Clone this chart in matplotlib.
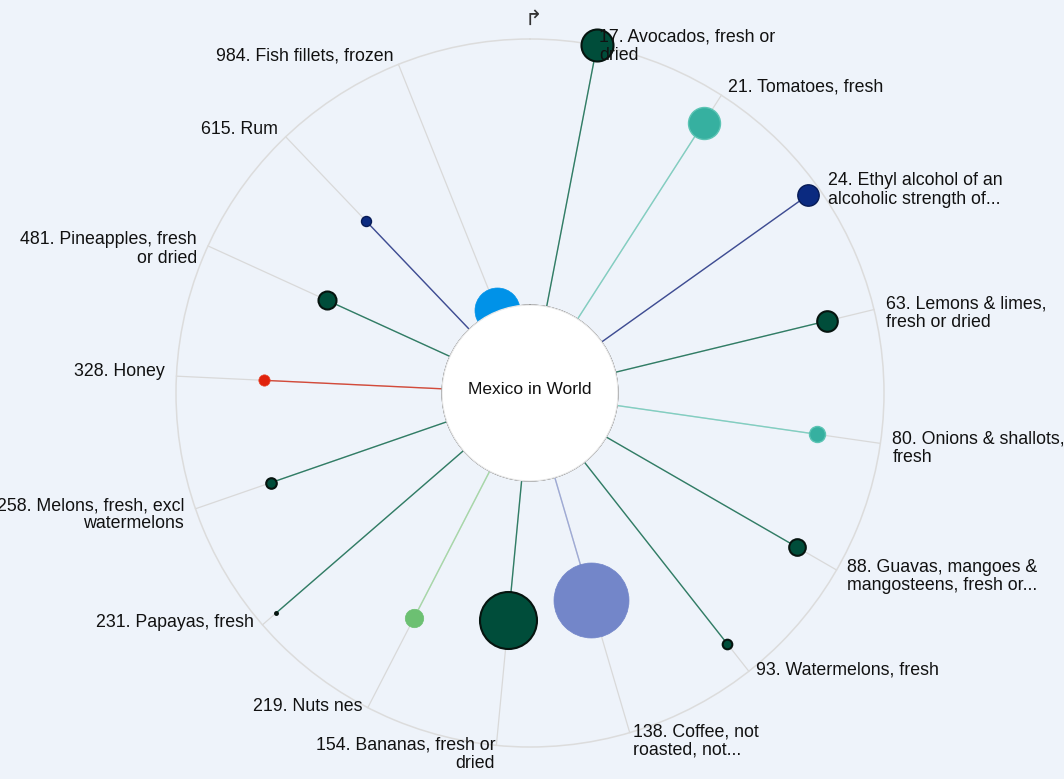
import numpy as np
import matplotlib.pyplot as plt
from matplotlib.patches import Circle
from matplotlib.transforms import offset_copy

plt.rcParams['font.family'] = ['Liberation Sans', 'DejaVu Sans']

# ---- data ----
ranks = [17, 21, 24, 63, 80, 88, 93, 138, 154, 219, 231, 258, 328, 481, 615, 984]
products = [
    "Avocados, fresh or\ndried",
    "Tomatoes, fresh",
    "Ethyl alcohol of an\nalcoholic strength of...",
    "Lemons & limes,\nfresh or dried",
    "Onions & shallots,\nfresh",
    "Guavas, mangoes &\nmangosteens, fresh or...",
    "Watermelons, fresh",
    "Coffee, not\nroasted, not...",
    "Bananas, fresh or\ndried",
    "Nuts nes",
    "Papayas, fresh",
    "Melons, fresh, excl\nwatermelons",
    "Honey",
    "Pineapples, fresh\nor dried",
    "Rum",
    "Fish fillets, frozen",
]
# radial score (0 = inner circle, 1 = outer ring)
scores = [1.0, 0.876, 0.95, 0.817, 0.76, 0.829, 0.87, 0.479,
          0.527, 0.621, 0.934, 0.70, 0.671, 0.508, 0.563, 0.005]
# bubble value (area encoded)
volumes = [256, 256, 114, 106, 64, 69, 23, 1406,
           812, 85, 2, 28, 32, 81, 25, 506]
groups = ["fruit", "veg", "drink", "fruit", "veg", "fruit", "fruit", "coffee",
          "fruit", "nuts", "fruit", "fruit", "animal", "fruit", "drink", "fish"]
center_label = "Mexico in World"

# ---- styling ----
BG = "#eef3fa"
fills = {"fruit": "#004d3a", "veg": "#36b0a0", "drink": "#0b2a80", "coffee": "#7386c9",
         "nuts": "#6cc072", "animal": "#e0220c", "fish": "#0092e8"}
edges = {"fruit": "#06140f", "veg": "#5cc4b4", "drink": "#061a55", "coffee": "#7386c9",
         "nuts": "#6cc072", "animal": "#e84a30", "fish": "#0092e8"}
stems = {"fruit": "#2f7d66", "veg": "#80cfc2", "drink": "#3d4c95", "coffee": "#9eaad6",
         "nuts": "#a6d8a8", "animal": "#d44a3a", "fish": "#7fb8e0"}
edge_w = {"fruit": 1.5, "veg": 1.0, "drink": 1.0, "coffee": 0.5,
          "nuts": 0.5, "animal": 0.5, "fish": 0.5}

W, H = 1064, 779
cx, cy = 530, 393          # chart centre in pixels (from top)
R_OUT, R_IN = 354, 88      # outer ring / inner disc radius in pixels
R_LAB = 366
origin = -R_IN / (R_OUT - R_IN)   # so that r=0 sits on the inner disc edge

n = len(products)
step = 2 * np.pi / (n + 0.5)
theta = step / 2 + np.arange(n) * step

fig = plt.figure(figsize=(W / 100, H / 100), dpi=100, facecolor=BG)
ax = fig.add_axes([(cx - R_OUT) / W, (H - cy - R_OUT) / H, 2 * R_OUT / W, 2 * R_OUT / H],
                  projection="polar")
ax.set_theta_zero_location("N")
ax.set_theta_direction(-1)
ax.set_rorigin(origin)
ax.set_rlim(0, 1)
ax.set_facecolor(BG)
ax.grid(False)
ax.set_xticks([])
ax.set_yticks([])
ax.spines["polar"].set_color("#dcdcdc")
ax.spines["polar"].set_linewidth(1.1)
ax.spines["inner"].set_visible(False)

# grey spokes
for t in theta:
    ax.plot([t, t], [0, 1], color="#d9d9d9", lw=0.9, zorder=1, clip_on=False)

# coloured stems + bubbles
vmax = max(volumes)
for t, s, v, g in zip(theta, scores, volumes, groups):
    ax.plot([t, t], [0, s], color=stems[g], lw=1.0, zorder=2)
    r_px = 37.5 * np.sqrt(v / vmax)
    ax.scatter([t], [s], s=(1.44 * r_px) ** 2, color=fills[g], edgecolors=edges[g],
               linewidths=edge_w[g], zorder=3, clip_on=False)

# white centre disc
disc = Circle((0.5, 0.5), R_IN / (2 * R_OUT), transform=ax.transAxes, facecolor="white",
              edgecolor="#e8e8e8", lw=0.9, zorder=5, clip_on=False)
ax.add_patch(disc)
ax.text(0.5, 0.5 + 3 / (2 * R_OUT), center_label, transform=ax.transAxes, ha="center",
        va="center", fontsize=12.5, color="#111111", zorder=6)

# outer labels
r_lab = origin + (R_LAB / R_OUT) * (1 - origin)
for t, rk, name in zip(theta, ranks, products):
    ha = "left" if np.sin(t) > 0 else "right"
    dy = 13 - 8 * np.cos(t)
    tr = offset_copy(ax.transData, fig=fig, x=0, y=dy, units="dots")
    ax.text(t, r_lab, f"{rk}. {name}", transform=tr, ha=ha, va="top", fontsize=12.8,
            color="#111111", linespacing=1.1, clip_on=False)

# small start marker at the top
fig.text(533 / W, 1 - 19 / H, "\u21b1", ha="center", va="center", fontsize=15,
         color="#333333", family=["DejaVu Sans", "Noto Sans"])

fig.savefig("out.png", dpi=100, facecolor=BG)
